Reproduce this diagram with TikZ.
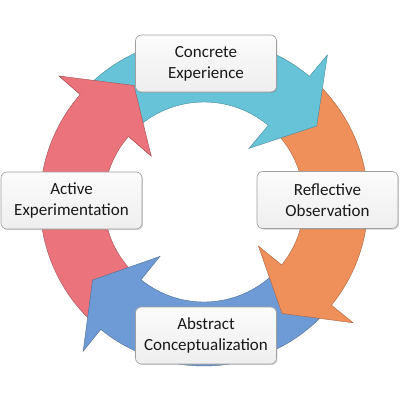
\documentclass[tikz,border=0pt]{standalone}
\usepackage{fontspec}
\setmainfont{Carlito}
\usetikzlibrary{shadows}

\definecolor{cyanarc}{HTML}{67C3D8}
\definecolor{orangearc}{HTML}{EF8F5A}
\definecolor{bluearc}{HTML}{6E9AD5}
\definecolor{redarc}{HTML}{EB737B}

% one band of the cycle: colour, start angle, angle of the head's base
\newcommand{\cyclearrow}[3]{%
  \pgfmathsetmacro\tipang{#3-16}
  \filldraw[fill=#1, draw=#1!70!black, line width=0.4pt]
    (#2:100) -- (#2:164) arc[start angle=#2, end angle=#3, radius=164]
    -- (#3:192) -- (\tipang:136) -- (#3:70) -- (#3:100)
    arc[start angle=#3, end angle=#2, radius=100] -- cycle;
}

\tikzset{
  stagebox/.style={rectangle, rounded corners=6pt, draw=gray!75,
    line width=0.6pt, top color=gray!3, bottom color=gray!13,
    drop shadow={shadow xshift=1pt, shadow yshift=-1pt, opacity=0.35},
    minimum width=141pt, minimum height=57pt, align=center,
    text=black!90, font=\fontsize{17}{21}\selectfont}
}

\begin{document}
\begin{tikzpicture}[x=1pt, y=1pt]
\useasboundingbox (-204,-198) rectangle (196,202);

\cyclearrow{redarc}{227}{139}
\cyclearrow{bluearc}{-43}{-129}
\cyclearrow{orangearc}{46}{-39}
\cyclearrow{cyanarc}{135}{50}

% head of the last band lies over the start of the first
\fill[redarc] (139:70) -- (121:136) -- (139:192) -- cycle;
\draw[redarc!70!black, line width=0.4pt]
  (139:164) -- (139:192) -- (121:136) -- (139:70) -- (139:100);

\node[stagebox] (concrete)   at (2,138.5)    {Concrete\\Experience};
\node[stagebox] (reflective) at (123.5,2)    {Reflective\\Observation};
\node[stagebox] (abstract)   at (2,-133.5)   {Abstract\\Conceptualization};
\node[stagebox] (active)     at (-132.5,1.5) {Active\\Experimentation};
\end{tikzpicture}
\end{document}
